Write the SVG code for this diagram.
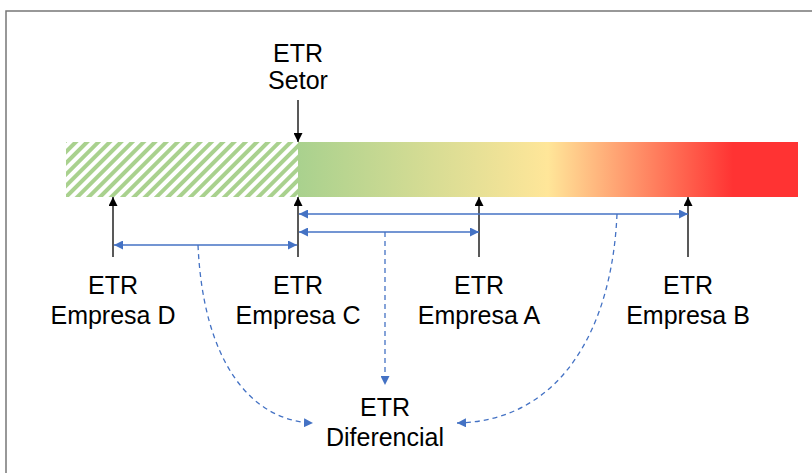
<svg xmlns="http://www.w3.org/2000/svg" width="812" height="473" viewBox="0 0 812 473">
<style>
text{font-family:"Liberation Sans",Arial,sans-serif;font-size:25px;fill:#000;text-anchor:middle}
.tick{stroke:#222;stroke-width:1.5;fill:none}
.dim{stroke:#4472c4;stroke-width:1.3;fill:none}
.dash{stroke:#4472c4;stroke-width:1.3;fill:none;stroke-dasharray:5,4}
</style>
<defs>
<linearGradient id="grad" x1="298" y1="0" x2="798" y2="0" gradientUnits="userSpaceOnUse">
<stop offset="0" stop-color="#a9d18e"/>
<stop offset="0.5" stop-color="#ffe699"/>
<stop offset="0.87" stop-color="#ff3333"/>
<stop offset="1" stop-color="#ff3333"/>
</linearGradient>
<pattern id="hatch" patternUnits="userSpaceOnUse" width="8" height="8" patternTransform="rotate(45)">
<rect x="0" y="0" width="4" height="8" fill="#a9d18e"/>
</pattern>
<marker id="ah" viewBox="0 0 10 10" refX="10" refY="5" markerWidth="9" markerHeight="9" orient="auto-start-reverse" markerUnits="userSpaceOnUse">
<path d="M0,0 L10,5 L0,10 z" fill="#000"/>
</marker>
<marker id="bh" viewBox="0 0 10 10" refX="10" refY="5" markerWidth="9" markerHeight="9" orient="auto-start-reverse" markerUnits="userSpaceOnUse">
<path d="M0,0 L10,5 L0,10 z" fill="#4472c4"/>
</marker>
</defs>
<rect width="812" height="473" fill="#fff"/>
<path d="M6,473 V11 H812" stroke="#777" stroke-width="1.5" fill="none"/>
<g id="bar">
<rect x="66" y="142" width="232" height="55" fill="url(#hatch)"/>
<rect x="298" y="142" width="500" height="55" fill="url(#grad)"/>
</g>
<g id="connectors">
<line class="tick" x1="298" y1="100" x2="298" y2="142" marker-end="url(#ah)"/>
<line class="tick" x1="113" y1="257" x2="113" y2="197" marker-end="url(#ah)"/>
<line class="tick" x1="298" y1="257" x2="298" y2="197" marker-end="url(#ah)"/>
<line class="tick" x1="479" y1="257" x2="479" y2="197" marker-end="url(#ah)"/>
<line class="tick" x1="688" y1="257" x2="688" y2="197" marker-end="url(#ah)"/>
<line class="dim" x1="299" y1="214" x2="688" y2="214" marker-start="url(#bh)" marker-end="url(#bh)"/>
<line class="dim" x1="299" y1="232" x2="479" y2="232" marker-start="url(#bh)" marker-end="url(#bh)"/>
<line class="dim" x1="114" y1="245" x2="297" y2="245" marker-start="url(#bh)" marker-end="url(#bh)"/>
<path class="dash" d="M198,245 C203,360 250,421 313,423" marker-end="url(#bh)"/>
<line class="dash" x1="385" y1="232" x2="385" y2="385" marker-end="url(#bh)"/>
<path class="dash" d="M617,214 C612,330 560,421 457,423" marker-end="url(#bh)"/>
</g>
<g id="setor"><text x="298" y="62">ETR</text><text x="298" y="89">Setor</text></g>
<g id="empresa-d"><text x="113" y="294">ETR</text><text x="113" y="324">Empresa D</text></g>
<g id="empresa-c"><text x="298" y="294">ETR</text><text x="298" y="324">Empresa C</text></g>
<g id="empresa-a"><text x="479" y="294">ETR</text><text x="479" y="324">Empresa A</text></g>
<g id="empresa-b"><text x="688" y="294">ETR</text><text x="688" y="324">Empresa B</text></g>
<g id="diferencial"><text x="385" y="416">ETR</text><text x="385" y="446">Diferencial</text></g>
</svg>
